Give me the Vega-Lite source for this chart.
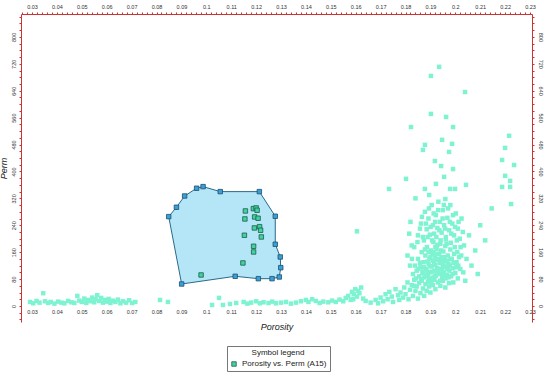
{
  "$schema": "https://vega.github.io/schema/vega-lite/v6.json",
  "width": 511,
  "height": 308,
  "autosize": "none",
  "padding": {"left": 21, "top": 14, "right": 13, "bottom": 56},
  "background": "white",
  "config": {
    "view": {"stroke": null},
    "font": "Liberation Sans"
  },
  "datasets": {
    "bg": [
      {"p":0.0292,"k":12},{"p":0.0305,"k":8},{"p":0.0318,"k":15},{"p":0.0330,"k":10},{"p":0.0345,"k":38},{"p":0.0352,"k":14},{"p":0.0365,"k":9},{"p":0.0375,"k":12},{"p":0.0390,"k":7},{"p":0.0405,"k":13},{"p":0.0418,"k":10},{"p":0.0430,"k":8},{"p":0.0445,"k":15},{"p":0.0458,"k":11},{"p":0.0470,"k":9},{"p":0.0482,"k":30},{"p":0.0490,"k":16},{"p":0.0500,"k":12},{"p":0.0510,"k":22},{"p":0.0518,"k":9},{"p":0.0525,"k":18},{"p":0.0535,"k":14},{"p":0.0542,"k":25},{"p":0.0550,"k":11},{"p":0.0555,"k":20},{"p":0.0562,"k":32},{"p":0.0570,"k":15},{"p":0.0578,"k":24},{"p":0.0585,"k":10},{"p":0.0592,"k":18},{"p":0.0600,"k":13},{"p":0.0608,"k":21},{"p":0.0615,"k":9},{"p":0.0625,"k":16},{"p":0.0635,"k":12},{"p":0.0645,"k":19},{"p":0.0655,"k":8},{"p":0.0665,"k":14},{"p":0.0678,"k":10},{"p":0.0690,"k":17},{"p":0.0702,"k":9},{"p":0.0715,"k":12},
      {"p":0.0814,"k":18},{"p":0.0846,"k":12},
      {"p":0.1023,"k":3},{"p":0.1051,"k":24},{"p":0.1067,"k":3},{"p":0.1095,"k":6},{"p":0.1120,"k":9},{"p":0.1150,"k":12},{"p":0.1165,"k":7},{"p":0.1180,"k":10},{"p":0.1200,"k":14},{"p":0.1215,"k":8},{"p":0.1230,"k":11},{"p":0.1250,"k":9},{"p":0.1265,"k":13},{"p":0.1280,"k":8},{"p":0.1300,"k":10},{"p":0.1320,"k":12},{"p":0.1340,"k":7},
      {"p":0.1360,"k":10},{"p":0.1380,"k":14},{"p":0.1400,"k":18},{"p":0.1410,"k":12},{"p":0.1425,"k":20},{"p":0.1440,"k":15},{"p":0.1455,"k":9},{"p":0.1470,"k":13},{"p":0.1490,"k":11},{"p":0.1505,"k":16},{"p":0.1520,"k":12},{"p":0.1535,"k":19},{"p":0.1550,"k":14},{"p":0.1560,"k":24},{"p":0.1570,"k":30},{"p":0.1580,"k":18},{"p":0.1585,"k":42},{"p":0.1592,"k":35},{"p":0.1598,"k":50},{"p":0.1605,"k":28},{"p":0.1610,"k":45},{"p":0.1615,"k":38},{"p":0.1622,"k":55},{"p":0.1630,"k":22},{"p":0.1605,"k":222},{"p":0.1590,"k":20},{"p":0.1640,"k":15},
      {"p":0.1660,"k":10},{"p":0.1680,"k":18},{"p":0.1690,"k":8},{"p":0.1700,"k":25},{"p":0.1710,"k":14},{"p":0.1720,"k":35},{"p":0.1728,"k":20},{"p":0.1735,"k":42},{"p":0.1745,"k":28},{"p":0.1750,"k":12},{"p":0.1760,"k":50},{"p":0.1770,"k":32},{"p":0.1775,"k":18},
      {"p":0.1780,"k":40},{"p":0.1790,"k":25},{"p":0.1795,"k":55},{"p":0.1800,"k":35},{"p":0.1808,"k":70},{"p":0.1812,"k":20},{"p":0.1818,"k":48},{"p":0.1825,"k":62},{"p":0.1830,"k":30},{"p":0.1835,"k":78},{"p":0.1840,"k":45},{"p":0.1845,"k":58},{"p":0.1850,"k":22},{"p":0.1855,"k":68},{"p":0.1860,"k":38},{"p":0.1865,"k":75},{"p":0.1870,"k":52},{"p":0.1875,"k":30},{"p":0.1880,"k":65},{"p":0.1885,"k":45},{"p":0.1890,"k":72},{"p":0.1895,"k":58},{"p":0.1900,"k":40},{"p":0.1905,"k":78},{"p":0.1910,"k":62},{"p":0.1920,"k":50},{"p":0.1930,"k":70},{"p":0.1940,"k":60},{"p":0.1950,"k":75},{"p":0.1960,"k":55},{"p":0.1975,"k":68},
      {"p":0.1830,"k":95},{"p":0.1838,"k":120},{"p":0.1845,"k":105},{"p":0.1850,"k":140},{"p":0.1855,"k":88},{"p":0.1860,"k":115},{"p":0.1865,"k":160},{"p":0.1868,"k":98},{"p":0.1872,"k":130},{"p":0.1876,"k":85},{"p":0.1880,"k":150},{"p":0.1883,"k":110},{"p":0.1886,"k":175},{"p":0.1890,"k":92},{"p":0.1893,"k":125},{"p":0.1896,"k":140},{"p":0.1899,"k":100},{"p":0.1902,"k":165},{"p":0.1905,"k":118},{"p":0.1908,"k":84},{"p":0.1910,"k":135},{"p":0.1912,"k":190},{"p":0.1915,"k":105},{"p":0.1918,"k":148},{"p":0.1920,"k":122},{"p":0.1922,"k":90},{"p":0.1925,"k":170},{"p":0.1927,"k":112},{"p":0.1930,"k":138},{"p":0.1932,"k":96},{"p":0.1935,"k":155},{"p":0.1937,"k":128},{"p":0.1940,"k":185},{"p":0.1942,"k":108},{"p":0.1945,"k":145},{"p":0.1947,"k":86},{"p":0.1950,"k":120},{"p":0.1952,"k":162},{"p":0.1955,"k":100},{"p":0.1958,"k":132},{"p":0.1960,"k":178},{"p":0.1963,"k":115},{"p":0.1966,"k":92},{"p":0.1970,"k":150},{"p":0.1973,"k":125},{"p":0.1976,"k":105},{"p":0.1980,"k":168},{"p":0.1983,"k":88},{"p":0.1986,"k":140},{"p":0.1990,"k":112},{"p":0.1995,"k":155},{"p":0.2000,"k":98},{"p":0.2005,"k":130},{"p":0.2010,"k":82},{"p":0.2015,"k":145},{"p":0.2020,"k":110},
      {"p":0.1842,"k":82},{"p":0.1858,"k":128},{"p":0.1870,"k":102},{"p":0.1878,"k":168},{"p":0.1888,"k":132},{"p":0.1895,"k":80},{"p":0.1900,"k":145},{"p":0.1907,"k":102},{"p":0.1913,"k":160},{"p":0.1917,"k":88},{"p":0.1923,"k":138},{"p":0.1928,"k":182},{"p":0.1933,"k":110},{"p":0.1938,"k":95},{"p":0.1943,"k":165},{"p":0.1948,"k":128},{"p":0.1953,"k":90},{"p":0.1957,"k":145},{"p":0.1962,"k":198},{"p":0.1967,"k":135},{"p":0.1972,"k":85},{"p":0.1978,"k":120},{"p":0.1982,"k":188},{"p":0.1988,"k":95},{"p":0.1993,"k":128},{"p":0.1998,"k":175},{"p":0.2003,"k":115},{"p":0.2008,"k":160},{"p":0.1915,"k":125},{"p":0.1926,"k":100},{"p":0.1936,"k":140},{"p":0.1946,"k":110},{"p":0.1956,"k":118},{"p":0.1908,"k":155},{"p":0.1898,"k":118},{"p":0.1888,"k":102},{"p":0.1920,"k":175},{"p":0.1940,"k":130},
      {"p":0.1850,"k":210},{"p":0.1862,"k":245},{"p":0.1870,"k":205},{"p":0.1878,"k":280},{"p":0.1885,"k":228},{"p":0.1892,"k":260},{"p":0.1898,"k":212},{"p":0.1905,"k":300},{"p":0.1910,"k":240},{"p":0.1915,"k":215},{"p":0.1922,"k":270},{"p":0.1928,"k":232},{"p":0.1932,"k":310},{"p":0.1938,"k":250},{"p":0.1945,"k":218},{"p":0.1950,"k":285},{"p":0.1955,"k":240},{"p":0.1962,"k":205},{"p":0.1968,"k":262},{"p":0.1975,"k":225},{"p":0.1980,"k":300},{"p":0.1988,"k":245},{"p":0.1995,"k":210},{"p":0.2002,"k":275},{"p":0.2010,"k":230},{"p":0.2018,"k":200},{"p":0.2025,"k":260},{"p":0.1840,"k":320},{"p":0.1895,"k":330},{"p":0.1960,"k":318},{"p":0.1820,"k":250},
      {"p":0.1835,"k":175},{"p":0.1848,"k":190},{"p":0.1858,"k":230},{"p":0.1866,"k":265},{"p":0.1874,"k":195},{"p":0.1882,"k":245},{"p":0.1889,"k":205},{"p":0.1894,"k":290},{"p":0.1901,"k":235},{"p":0.1907,"k":195},{"p":0.1913,"k":275},{"p":0.1919,"k":250},{"p":0.1924,"k":205},{"p":0.1931,"k":285},{"p":0.1936,"k":225},{"p":0.1941,"k":195},{"p":0.1949,"k":260},{"p":0.1954,"k":300},{"p":0.1959,"k":230},{"p":0.1965,"k":185},{"p":0.1971,"k":290},{"p":0.1978,"k":250},{"p":0.1984,"k":215},{"p":0.1991,"k":270},{"p":0.1999,"k":235},{"p":0.2006,"k":195},{"p":0.2013,"k":250},{"p":0.2021,"k":175},{"p":0.2030,"k":220},{"p":0.1825,"k":180},{"p":0.1815,"k":215},{"p":0.1808,"k":150},{"p":0.1818,"k":120},{"p":0.1826,"k":140},{"p":0.1834,"k":60},{"p":0.1852,"k":110},{"p":0.1863,"k":80},{"p":0.1874,"k":115},{"p":0.1884,"k":90},{"p":0.1893,"k":160},{"p":0.1904,"k":70},{"p":0.1916,"k":78},{"p":0.1929,"k":155},{"p":0.1939,"k":75},{"p":0.1951,"k":140},{"p":0.1961,"k":82},{"p":0.1969,"k":110},{"p":0.1981,"k":140},{"p":0.1992,"k":70},{"p":0.2012,"k":120},{"p":0.2024,"k":150},{"p":0.2032,"k":100},
      {"p":0.2035,"k":180},{"p":0.2045,"k":140},{"p":0.2055,"k":210},{"p":0.2065,"k":120},{"p":0.2080,"k":165},{"p":0.2100,"k":240},{"p":0.2120,"k":195},{"p":0.2146,"k":290},{"p":0.2090,"k":95},{"p":0.2040,"k":75},
      {"p":0.1935,"k":711},{"p":0.1902,"k":684},{"p":0.2039,"k":636},{"p":0.1902,"k":571},{"p":0.1963,"k":562},{"p":0.1822,"k":532},{"p":0.1991,"k":532},{"p":0.1947,"k":494},{"p":0.1878,"k":479},{"p":0.1987,"k":482},{"p":0.1870,"k":464},{"p":0.1975,"k":458},{"p":0.1918,"k":431},{"p":0.1943,"k":416},{"p":0.1991,"k":407},{"p":0.1955,"k":384},{"p":0.1802,"k":378},{"p":0.1922,"k":363},{"p":0.2043,"k":360},{"p":0.1734,"k":348},{"p":0.1878,"k":348},{"p":0.1979,"k":348},{"p":0.1999,"k":348},
      {"p":0.2216,"k":506},{"p":0.2200,"k":470},{"p":0.2188,"k":434},{"p":0.2236,"k":419},{"p":0.2200,"k":387},{"p":0.2220,"k":372},{"p":0.2188,"k":354},{"p":0.2220,"k":354},{"p":0.2224,"k":303}
    ],
    "poly": [
      {"o":1,"p":0.0849,"k":265.6},{"o":2,"p":0.0880,"k":293.5},{"o":3,"p":0.0913,"k":327},{"o":4,"p":0.0961,"k":350},{"o":5,"p":0.0987,"k":354.8},{"o":6,"p":0.1056,"k":340},{"o":7,"p":0.1213,"k":340},{"o":8,"p":0.1277,"k":266.8},{"o":9,"p":0.1277,"k":183.5},{"o":10,"p":0.1297,"k":145.7},{"o":11,"p":0.1299,"k":113.9},{"o":12,"p":0.1293,"k":86.2},{"o":13,"p":0.1264,"k":81.2},{"o":14,"p":0.1209,"k":81.2},{"o":15,"p":0.1116,"k":88.3},{"o":16,"p":0.0901,"k":65.4}
    ],
    "a15": [
      {"p":0.1157,"k":282.5,"s":"Porosity vs. Perm (A15)"},{"p":0.1189,"k":289.4,"s":"Porosity vs. Perm (A15)"},{"p":0.1200,"k":291.5,"s":"Porosity vs. Perm (A15)"},{"p":0.1204,"k":284.6,"s":"Porosity vs. Perm (A15)"},{"p":0.1155,"k":258.7,"s":"Porosity vs. Perm (A15)"},{"p":0.1194,"k":264.7,"s":"Porosity vs. Perm (A15)"},{"p":0.1208,"k":260.8,"s":"Porosity vs. Perm (A15)"},{"p":0.1193,"k":232,"s":"Porosity vs. Perm (A15)"},{"p":0.1214,"k":235.8,"s":"Porosity vs. Perm (A15)"},{"p":0.1218,"k":225.1,"s":"Porosity vs. Perm (A15)"},{"p":0.1153,"k":210.3,"s":"Porosity vs. Perm (A15)"},{"p":0.1221,"k":205.2,"s":"Porosity vs. Perm (A15)"},{"p":0.1190,"k":177.5,"s":"Porosity vs. Perm (A15)"},{"p":0.1190,"k":160.6,"s":"Porosity vs. Perm (A15)"},{"p":0.1147,"k":127.9,"s":"Porosity vs. Perm (A15)"},{"p":0.0979,"k":92.2,"s":"Porosity vs. Perm (A15)"}
    ]
  },
  "resolve": {"axis": {"x": "independent", "y": "independent"}},
  "layer": [
    {
      "data": {"name": "poly"},
      "mark": {"type": "line", "interpolate": "linear-closed", "fill": "#b5e6f8", "stroke": "#2b6a88", "strokeWidth": 1},
      "encoding": {
        "x": {"field": "p", "type": "quantitative", "scale": {"domain": [0.02558, 0.2308], "nice": false, "zero": false},
          "axis": {"orient": "top", "title": null, "tickCount": 100, "labelExpr": "abs(datum.value*100-round(datum.value*100))<0.01 ? format(datum.value,'.2~f') : ''",
            "labelOverlap": false, "labelFlush": false, "labelFontSize": 5.5, "labelColor": "#333", "labelPadding": 3,
            "domainColor": "#cc3333", "tickColor": "#cc3333", "tickSize": 2, "grid": false}},
        "y": {"field": "k", "type": "quantitative", "scale": {"domain": [-47.6, 868], "nice": false, "zero": false},
          "axis": {"orient": "left", "title": "Perm", "titleFontStyle": "italic", "titleFontWeight": "normal", "titleFontSize": 9, "titleColor": "#222", "titlePadding": 3,
            "tickCount": 46, "labelExpr": "datum.value % 80 == 0 ? format(datum.value,'d') : ''",
            "labelOverlap": false, "labelFlush": false, "labelAngle": 270, "labelAlign": "center", "labelBaseline": "bottom", "labelFontSize": 5.5, "labelColor": "#333", "labelPadding": 3,
            "domainColor": "#cc3333", "tickColor": "#cc3333", "tickSize": 2, "grid": false}},
        "order": {"field": "o", "type": "quantitative"}
      }
    },
    {
      "data": {"name": "bg"},
      "mark": {"type": "square", "filled": true, "size": 20, "color": "#7ef3d1", "opacity": 1},
      "encoding": {
        "x": {"field": "p", "type": "quantitative",
          "axis": {"orient": "bottom", "offset": -14, "title": "Porosity", "titleFontStyle": "italic", "titleFontWeight": "normal", "titleFontSize": 9, "titleColor": "#222", "titlePadding": 8,
            "values": [0.03,0.04,0.05,0.06,0.07,0.08,0.09,0.1,0.11,0.12,0.13,0.14,0.15,0.16,0.17,0.18,0.19,0.2,0.21,0.22,0.23],
            "labelExpr": "format(datum.value,'.2~f')", "labelOverlap": false, "labelFlush": false, "labelFontSize": 5.5, "labelColor": "#333", "labelPadding": 1,
            "domain": false, "ticks": false, "grid": false}},
        "y": {"field": "k", "type": "quantitative",
          "axis": {"orient": "right", "title": null, "tickCount": 46, "labelExpr": "datum.value % 80 == 0 ? format(datum.value,'d') : ''",
            "labelOverlap": false, "labelFlush": false, "labelAngle": 90, "labelAlign": "center", "labelBaseline": "bottom", "labelFontSize": 5.5, "labelColor": "#333", "labelPadding": 3,
            "domainColor": "#cc3333", "tickColor": "#cc3333", "tickSize": 2, "grid": false}}
      }
    },
    {
      "data": {"name": "poly"},
      "mark": {"type": "square", "filled": true, "size": 20, "color": "#3a9fd6", "stroke": "#1d4f6e", "strokeWidth": 0.8, "opacity": 1},
      "encoding": {
        "x": {"field": "p", "type": "quantitative", "axis": null},
        "y": {"field": "k", "type": "quantitative", "axis": null}
      }
    },
    {
      "data": {"name": "a15"},
      "mark": {"type": "square", "filled": true, "size": 20, "stroke": "#1d5a4a", "strokeWidth": 0.8, "opacity": 1},
      "encoding": {
        "x": {"field": "p", "type": "quantitative", "axis": null},
        "y": {"field": "k", "type": "quantitative", "axis": null},
        "color": {"field": "s", "type": "nominal", "scale": {"range": ["#3fd39e"]},
          "legend": {"title": "Symbol legend", "orient": "none", "legendX": 206, "legendY": 332,
            "titleFontSize": 8, "titleFontWeight": "normal", "titleColor": "#222", "titleAnchor": "middle", "titleAlign": "center",
            "labelFontSize": 8, "labelColor": "#222", "symbolSize": 20, "symbolStrokeColor": "#1d5a4a", "symbolStrokeWidth": 0.8, "symbolType": "square",
            "strokeColor": "#777", "padding": 3, "rowPadding": 2, "titlePadding": 3, "fillColor": "white"}}
      }
    }
  ]
}
